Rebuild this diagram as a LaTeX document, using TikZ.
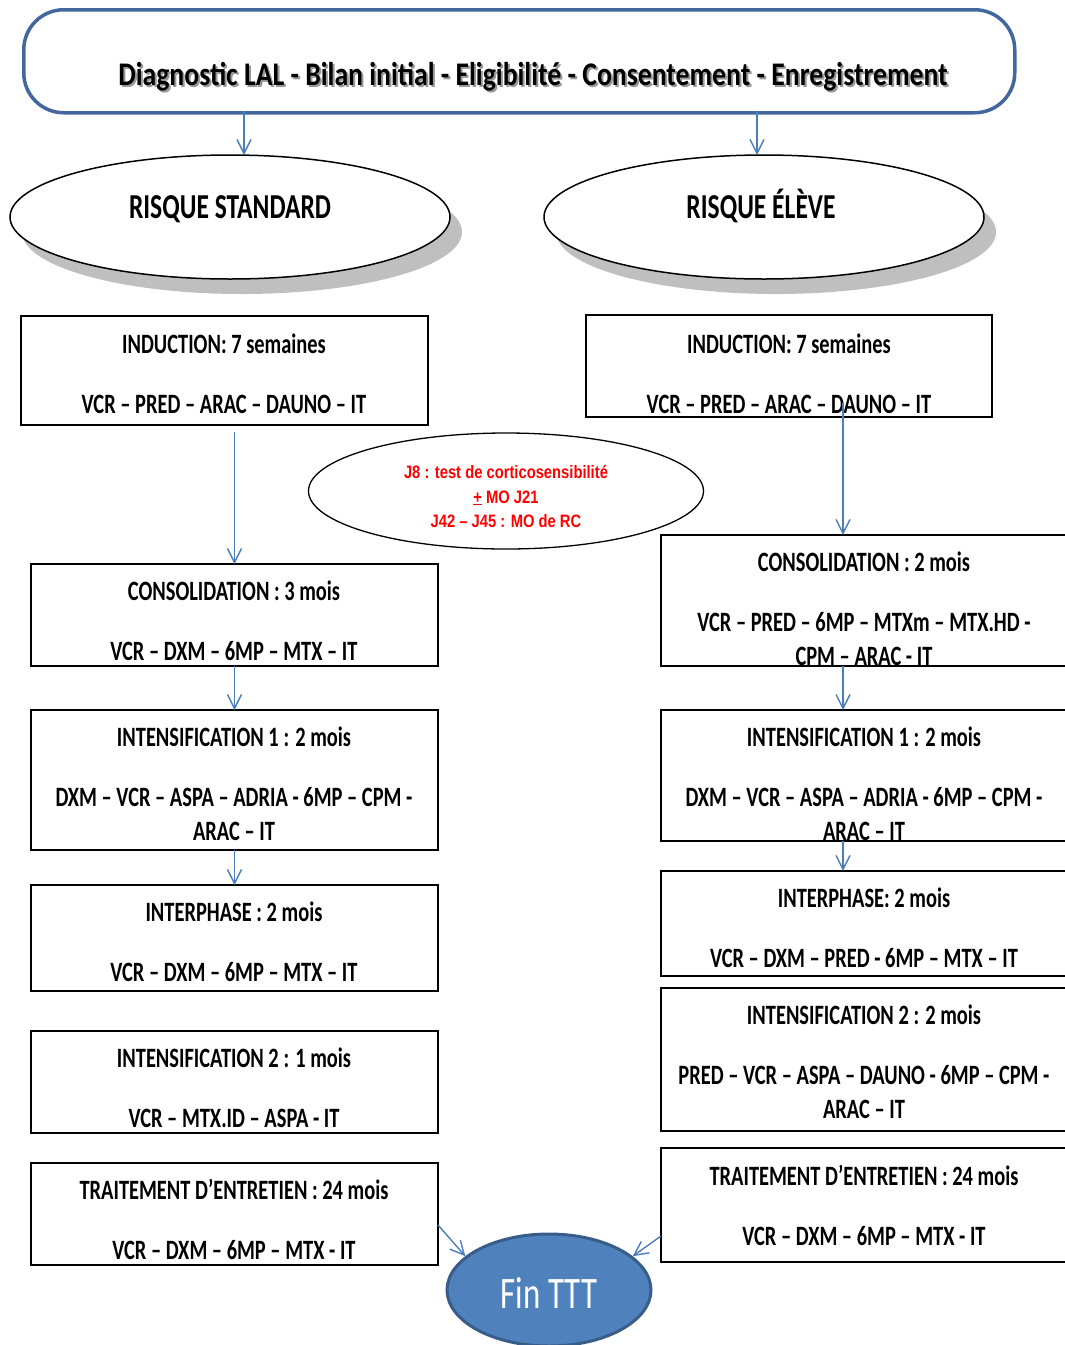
\documentclass[tikz,border=0pt]{standalone}
\usepackage{fontspec}
\setmainfont{Carlito}
\newfontfamily\cond[FakeStretch=0.73]{Carlito}
\newfontfamily\titfont[FakeStretch=0.84]{Carlito}
\newfontfamily\redfont[FakeStretch=0.82]{Liberation Sans}
\usetikzlibrary{shapes.geometric,arrows.meta,calc}
\definecolor{arrblue}{HTML}{4A7EBB}
\definecolor{topblue}{HTML}{41679C}
\definecolor{finfill}{HTML}{4F81BD}
\definecolor{finedge}{HTML}{385D8A}
\definecolor{shadowgray}{HTML}{BFBFBF}
\tikzset{
  stage/.style={draw=black, line width=1.8pt, rectangle, anchor=north west, inner sep=0pt, outer sep=0pt},
  txt/.style={anchor=base, inner sep=0pt, font=\cond\bfseries\fontsize{28}{34}\selectfont},
  risk/.style={draw=black, line width=1.5pt, ellipse, fill=white, minimum width=440pt, minimum height=124pt, inner sep=0pt, outer sep=0pt},
  riskshadow/.style={ellipse, fill=shadowgray, minimum width=440pt, minimum height=124pt, inner sep=0pt},
  arr/.style={draw=arrblue, line width=1.4pt, -{Straight Barb[length=14pt,width=14pt,line width=1.4pt]}},
  redtxt/.style={anchor=base, inner sep=0pt, text=red, font=\redfont\bfseries\fontsize{18}{24.5}\selectfont},
}
\begin{document}
\begin{tikzpicture}[x=1pt, y=-1pt]
\useasboundingbox (0,0) rectangle (1065,1345);
\begin{scope}
\clip (0,0) rectangle (1065,1345);
% top box
\node[draw=topblue, line width=3.5pt, rounded corners=40pt, minimum width=991pt, minimum height=103pt, anchor=north west, inner sep=0pt] (top) at (22,8) {};
\node[anchor=base, inner sep=0pt, text=black!40, font=\titfont\bfseries\fontsize{33}{40}\selectfont] (titsh) at (535,87) {Diagnostic LAL - Bilan initial - Eligibilité - Consentement - Enregistrement};
\node[anchor=base, inner sep=0pt, font=\titfont\bfseries\fontsize{33}{40}\selectfont] (tit) at (533,85) {Diagnostic LAL - Bilan initial - Eligibilité - Consentement - Enregistrement};

% risk ellipses
\node[riskshadow] (lsdsh) at (242,232) {};
\node[risk] (lsd) at (230,217) {};
\node[font=\cond\bfseries\fontsize{35}{40}\selectfont, anchor=base, inner sep=0pt] (lsdt) at (230,218) {RISQUE STANDARD};
\node[riskshadow] (lhrsh) at (776,232) {};
\node[risk] (lhr) at (764,217) {};
\node[font=\cond\bfseries\fontsize{35}{40}\selectfont, anchor=base, inner sep=0pt] (lhrt) at (761,218) {RISQUE ÉLÈVE};

\coordinate (c1) at (244,111);
\coordinate (c2) at (757,111);
\draw[arr] (c1) -- (c1 |- lsd.north);
\draw[arr] (c2) -- (c2 |- lhr.north);

% left column
\node[stage, minimum width=407pt, minimum height=109pt] (ind1) at (21,316) {};
\node[txt] (ind1a) at (224,353) {INDUCTION: 7 semaines};
\node[txt] (ind1b) at (224,413) {VCR – PRED – ARAC – DAUNO – IT};

\node[stage, minimum width=407pt, minimum height=102pt] (cons1) at (31,564) {};
\node[txt] (cons1a) at (234,600) {CONSOLIDATION : 3 mois};
\node[txt] (cons1b) at (234,660) {VCR – DXM – 6MP – MTX – IT};

\node[stage, minimum width=407pt, minimum height=140pt] (int1) at (31,710) {};
\node[txt] (int1a) at (234,746) {INTENSIFICATION 1 : 2 mois};
\node[txt] (int1b) at (234,806) {DXM – VCR – ASPA – ADRIA - 6MP – CPM -};
\node[txt] (int1c) at (234,840) {ARAC – IT};

\node[stage, minimum width=407pt, minimum height=106pt] (inter1) at (31,885) {};
\node[txt] (inter1a) at (234,921) {INTERPHASE : 2 mois};
\node[txt] (inter1b) at (234,981) {VCR – DXM – 6MP – MTX – IT};

\node[stage, minimum width=407pt, minimum height=102pt] (intb1) at (31,1031) {};
\node[txt] (intb1a) at (234,1067) {INTENSIFICATION 2 : 1 mois};
\node[txt] (intb1b) at (234,1127) {VCR – MTX.ID – ASPA - IT};

\node[stage, minimum width=407pt, minimum height=102pt] (tr1) at (31,1163) {};
\node[txt] (tr1a) at (234,1199) {TRAITEMENT D’ENTRETIEN : 24 mois};
\node[txt] (tr1b) at (234,1259) {VCR – DXM – 6MP – MTX - IT};

\draw[arr, shorten <=7pt] (cons1.north |- ind1.south) -- (cons1.north);
\draw[arr] (cons1.south) -- (int1.north);
\draw[arr] (int1.south) -- (inter1.north);

% right column
\node[stage, minimum width=406pt, minimum height=102pt] (ind2) at (586,315) {};
\node[txt] (ind2a) at (789,353) {INDUCTION: 7 semaines};
\node[txt] (ind2b) at (789,413) {VCR – PRED – ARAC – DAUNO – IT};

\node[stage, minimum width=408pt, minimum height=131pt] (cons2) at (661,535) {};
\node[txt] (cons2a) at (864,571) {CONSOLIDATION : 2 mois};
\node[txt] (cons2b) at (864,631) {VCR – PRED – 6MP – MTXm – MTX.HD -};
\node[txt] (cons2c) at (864,665) {CPM – ARAC - IT};

\node[stage, minimum width=408pt, minimum height=131pt] (int2) at (661,710) {};
\node[txt] (int2a) at (864,746) {INTENSIFICATION 1 : 2 mois};
\node[txt] (int2b) at (864,806) {DXM – VCR – ASPA – ADRIA - 6MP – CPM -};
\node[txt] (int2c) at (864,840) {ARAC – IT};

\node[stage, minimum width=408pt, minimum height=105pt] (inter2) at (661,871) {};
\node[txt] (inter2a) at (864,907) {INTERPHASE: 2 mois};
\node[txt] (inter2b) at (864,967) {VCR – DXM – PRED - 6MP – MTX – IT};

\node[stage, minimum width=408pt, minimum height=143pt] (intb2) at (661,988) {};
\node[txt] (intb2a) at (864,1024) {INTENSIFICATION 2 : 2 mois};
\node[txt] (intb2b) at (864,1084) {PRED – VCR – ASPA – DAUNO - 6MP – CPM -};
\node[txt] (intb2c) at (864,1118) {ARAC – IT};

\node[stage, minimum width=408pt, minimum height=114pt] (tr2) at (661,1148) {};
\node[txt] (tr2a) at (864,1185) {TRAITEMENT D’ENTRETIEN : 24 mois};
\node[txt] (tr2b) at (864,1245) {VCR – DXM – 6MP – MTX - IT};

\coordinate (c3) at (843,403);
\draw[arr] (c3) -- (c3 |- cons2.north);
\draw[arr] (c3 |- cons2.south) -- (c3 |- int2.north);
\draw[arr] (c3 |- int2.south) -- (c3 |- inter2.north);

% red note ellipse
\node[draw=black, line width=1.3pt, ellipse, minimum width=395pt, minimum height=116pt, inner sep=0pt, fill=white] (note) at (506,491) {};
\node[redtxt] (note1) at (506,478) {J8 : test de corticosensibilité};
\node[redtxt] (note2) at (506,503) {\underline{+} MO J21};
\node[redtxt] (note3) at (506,527) {J42 – J45 : MO de RC};

% Fin TTT
\node[ellipse, draw=finedge, line width=3pt, fill=finfill, minimum width=204pt, minimum height=112pt, inner sep=0pt] (fin) at (549,1290) {};
\node[anchor=base, inner sep=0pt, text=white, font=\cond\fontsize{45}{50}\selectfont] (fint) at (549,1308) {Fin TTT};

\draw[arr] ($(tr1.east)+(0,11)$) -- (fin.158);
\draw[arr] ($(tr2.west)+(0,31)$) -- (fin.22);
\end{scope}
\end{tikzpicture}
\end{document}
